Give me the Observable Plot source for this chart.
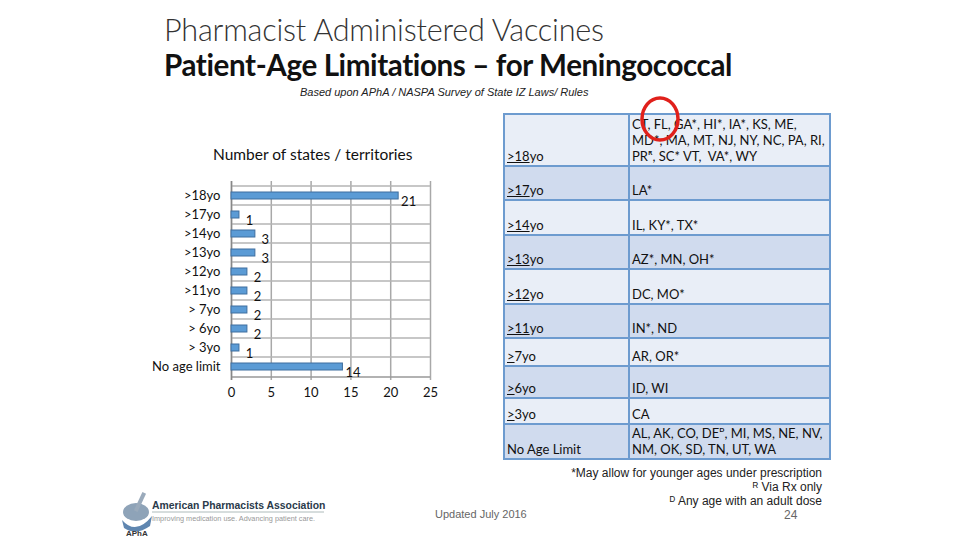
<!DOCTYPE html>
<html>
<head>
<meta charset="utf-8">
<script src="https://cdn.jsdelivr.net/npm/d3@7"></script>
<script src="https://cdn.jsdelivr.net/npm/@observablehq/plot@0.6"></script>
<style>
  html, body { margin: 0; padding: 0; background: #fff; }
  #slide { position: relative; width: 960px; height: 540px; overflow: hidden; background: #fff; font-family: Lato, "Open Sans", sans-serif; }
  .abs { position: absolute; white-space: nowrap; }
  #t1 { left: 164px; top: 11px; font-size: 30.6px; font-weight: 300; color: #333; letter-spacing: -0.2px; }
  #t2 { left: 164px; top: 47px; font-size: 29.6px; font-weight: 700; color: #111; letter-spacing: -0.4px; }
  #sub { left: 300px; top: 86px; font-family: "Liberation Sans", Arial, sans-serif; font-style: italic; font-size: 11px; color: #222; }
  #ctitle { left: 213px; top: 145px; font-size: 15.5px; color: #111; }
  #chart { left: 140px; top: 175px; }
  #tbl { left: 503px; top: 113px; border-collapse: collapse; font-size: 13px; color: #111; }
  #tbl td { border: 2px solid #6d9bcf; vertical-align: bottom; padding: 0 2px 1px 2px; line-height: 16px; white-space: normal; }
  #tbl td.a { width: 119px; }
  #tbl td.s { width: 195px; }
  #tbl tr.l td { background: #e9eef7; }
  #tbl tr.d td { background: #d0dbee; }
  .foot { right: 138px; font-family: "Liberation Sans", Arial, sans-serif; font-size: 12px; color: #222; text-align: right; }
  #upd { left: 435px; top: 508px; font-family: "Liberation Sans", Arial, sans-serif; font-size: 11px; color: #666; }
  #pg { left: 784px; top: 508px; font-family: "Liberation Sans", Arial, sans-serif; font-size: 12px; color: #666; }
  #circle { left: 638px; top: 95px; }
</style>
</head>
<body>
<div id="slide">
  <div class="abs" id="t1">Pharmacist Administered Vaccines</div>
  <div class="abs" id="t2">Patient-Age Limitations – for Meningococcal</div>
  <div class="abs" id="sub">Based upon APhA / NASPA Survey of State IZ Laws/ Rules</div>
  <div class="abs" id="ctitle">Number of states / territories</div>
  <div class="abs" id="chart"></div>
  <table class="abs" id="tbl"></table>
  <svg class="abs" id="circle" width="44" height="48"><ellipse cx="22" cy="24" rx="18" ry="21" fill="none" stroke="#e0201b" stroke-width="3.5"/></svg>
  <div class="abs foot" style="top:466px">*May allow for younger ages under prescription</div>
  <div class="abs foot" style="top:480px">ᴿ Via Rx only</div>
  <div class="abs foot" style="top:494px">ᴰ Any age with an adult dose</div>
  <div class="abs" id="upd">Updated July 2016</div>
  <div class="abs" id="pg">24</div>
  <svg class="abs" style="left:118px;top:486px" width="240" height="52">
    <ellipse cx="18" cy="26" rx="13" ry="9" fill="#8ea3b8"/>
    <path d="M4,34 Q18,50 34,30 L32,40 Q18,50 6,42 Z" fill="#5f86b0"/>
    <rect x="20" y="6" width="4" height="20" fill="#9aaabb" transform="rotate(25 22 16)"/>
    <text x="34" y="23" font-family="Liberation Sans, Arial" font-weight="700" font-size="10.4" fill="#2a3a4a">American Pharmacists Association</text>
    <line x1="34" y1="26" x2="206" y2="26" stroke="#9aa" stroke-width="0.8"/>
    <text x="34" y="35" font-family="Liberation Sans, Arial" font-size="7.3" fill="#999">Improving medication use. Advancing patient care.</text>
    <text x="8" y="50" font-family="Liberation Sans, Arial" font-weight="700" font-size="8" fill="#333">APhA</text>
  </svg>
</div>
<script>
// ---- chart data ----
const ageGroups = [">18yo", ">17yo", ">14yo", ">13yo", ">12yo", ">11yo", "> 7yo", "> 6yo", "> 3yo", "No age limit"];
const stateCounts = [21, 1, 3, 3, 2, 2, 2, 2, 1, 14];
const xTicks = [0, 5, 10, 15, 20, 25];

// ---- table data ----
const tableAgePrefix = [">18", ">17", ">14", ">13", ">12", ">11", ">", ">", ">", ""];
const tableAgeSuffix = ["yo", "yo", "yo", "yo", "yo", "yo", "7yo", "6yo", "3yo", "No Age Limit"];
const tableStates = [
  "CT, FL, GA*, HI*, IA*, KS, ME, MD*, MA, MT, NJ, NY, NC, PA, RI, PRᴿ, SC* VT,&nbsp; VA*, WY",
  "LA*",
  "IL, KY*, TX*",
  "AZ*, MN, OH*",
  "DC, MO*",
  "IN*, ND",
  "AR, OR*",
  "ID, WI",
  "CA",
  "AL, AK, CO, DEᴰ, MI, MS, NE, NV, NM, OK, SD, TN, UT, WA"
];
const tableRowHeights = [52, 34, 35, 34, 35, 34, 28, 32, 26, 35];

const tbl = document.getElementById("tbl");
tableStates.forEach((s, i) => {
  const tr = document.createElement("tr");
  tr.className = i % 2 === 0 ? "l" : "d";
  tr.style.height = tableRowHeights[i] + "px";
  const pre = tableAgePrefix[i] ? `<u>${tableAgePrefix[i].replace(">", "&gt;")}</u>` : "";
  tr.innerHTML = `<td class="a">${pre}${tableAgeSuffix[i]}</td><td class="s">${s}</td>`;
  tbl.appendChild(tr);
});

// ---- chart ----
const data = ageGroups.map((a, i) => ({age: a, count: stateCounts[i]}));
const W = 310, H = 230, mt = 6, mb = 25, ml = 91, mr = 20;
const step = (H - mt - mb) / ageGroups.length;

const chart = Plot.plot({
  width: W, height: H,
  marginTop: mt, marginBottom: mb, marginLeft: ml, marginRight: mr,
  style: {fontFamily: "Lato, sans-serif", fontSize: "13px", color: "#111", background: "transparent"},
  x: {domain: [0, 25], label: null},
  y: {domain: ageGroups, padding: 0, label: null},
  marks: [
    Plot.ruleX(xTicks, {stroke: "#a8a8a8", strokeWidth: 1.5}),
    Plot.ruleY(ageGroups, {y: d => d, dy: -step / 2, x1: 0, x2: 25, stroke: "#b5b5b5", strokeWidth: 1.5}),
    Plot.ruleY(ageGroups.slice(-1), {y: d => d, dy: step / 2, x1: 0, x2: 25, stroke: "#999", strokeWidth: 1.5}),
    Plot.ruleX([0], {stroke: "#888", strokeWidth: 1.5}),
    Plot.barX(data, {x: "count", y: "age", fill: "#5b9bd5", stroke: "#3f6f9f", strokeWidth: 1, insetTop: 6, insetBottom: 6}),
    Plot.text(data, {x: "count", y: "age", text: "count", dx: 10, dy: 6, fill: "#111", fontSize: 13}),
    Plot.axisX({ticks: xTicks, tickSize: 0, tickPadding: 7, label: null, fontSize: 13}),
    Plot.axisY({tickSize: 0, tickPadding: 11, label: null, fontSize: 13})
  ]
});
document.getElementById("chart").appendChild(chart);
</script>
</body>
</html>
